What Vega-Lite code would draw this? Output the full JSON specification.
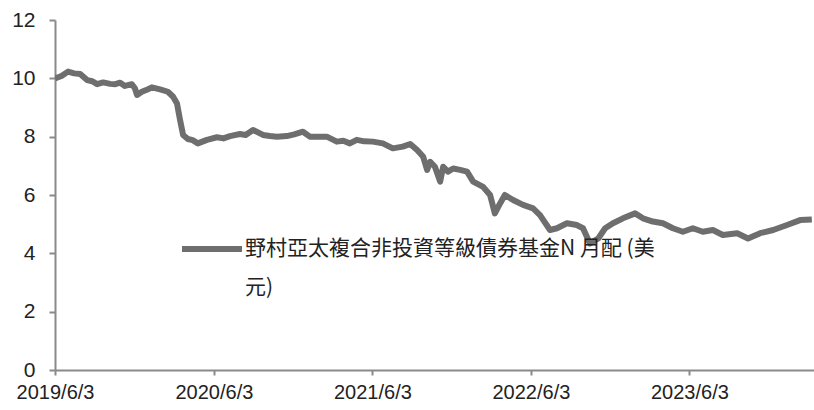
{
  "$schema": "https://vega.github.io/schema/vega-lite/v6.json",
  "width": 759,
  "height": 350,
  "autosize": {"type": "none"},
  "padding": {"left": 55, "top": 20, "right": 0, "bottom": 40},
  "background": "white",
  "config": {"view": {"stroke": null}},
  "data": {
    "values": [
      {"date": "2019-06-03", "nav": 10.0},
      {"date": "2019-06-18", "nav": 10.08},
      {"date": "2019-07-03", "nav": 10.23},
      {"date": "2019-07-17", "nav": 10.17},
      {"date": "2019-07-31", "nav": 10.15},
      {"date": "2019-08-16", "nav": 9.94},
      {"date": "2019-08-28", "nav": 9.9},
      {"date": "2019-09-08", "nav": 9.8},
      {"date": "2019-09-22", "nav": 9.86},
      {"date": "2019-10-08", "nav": 9.81},
      {"date": "2019-10-20", "nav": 9.8},
      {"date": "2019-10-31", "nav": 9.85},
      {"date": "2019-11-11", "nav": 9.74},
      {"date": "2019-11-27", "nav": 9.8},
      {"date": "2019-12-04", "nav": 9.66},
      {"date": "2019-12-09", "nav": 9.43},
      {"date": "2019-12-20", "nav": 9.54},
      {"date": "2020-01-02", "nav": 9.62},
      {"date": "2020-01-12", "nav": 9.69},
      {"date": "2020-01-31", "nav": 9.62},
      {"date": "2020-02-18", "nav": 9.54},
      {"date": "2020-03-01", "nav": 9.37},
      {"date": "2020-03-10", "nav": 9.14},
      {"date": "2020-03-17", "nav": 8.57},
      {"date": "2020-03-24", "nav": 8.06},
      {"date": "2020-04-04", "nav": 7.92},
      {"date": "2020-04-15", "nav": 7.88},
      {"date": "2020-04-27", "nav": 7.77},
      {"date": "2020-05-18", "nav": 7.89},
      {"date": "2020-06-10", "nav": 7.98},
      {"date": "2020-06-25", "nav": 7.94},
      {"date": "2020-07-10", "nav": 8.02},
      {"date": "2020-08-02", "nav": 8.09},
      {"date": "2020-08-15", "nav": 8.06},
      {"date": "2020-09-01", "nav": 8.23},
      {"date": "2020-09-24", "nav": 8.06},
      {"date": "2020-10-10", "nav": 8.02},
      {"date": "2020-10-26", "nav": 8.0},
      {"date": "2020-11-18", "nav": 8.02},
      {"date": "2020-12-05", "nav": 8.08},
      {"date": "2020-12-25", "nav": 8.17},
      {"date": "2021-01-10", "nav": 8.0},
      {"date": "2021-02-18", "nav": 8.0},
      {"date": "2021-03-13", "nav": 7.83},
      {"date": "2021-03-28", "nav": 7.86},
      {"date": "2021-04-12", "nav": 7.77},
      {"date": "2021-04-28", "nav": 7.89},
      {"date": "2021-05-15", "nav": 7.84},
      {"date": "2021-06-04", "nav": 7.83},
      {"date": "2021-06-27", "nav": 7.77},
      {"date": "2021-07-20", "nav": 7.6},
      {"date": "2021-08-12", "nav": 7.66},
      {"date": "2021-08-29", "nav": 7.75},
      {"date": "2021-09-14", "nav": 7.54},
      {"date": "2021-09-28", "nav": 7.31},
      {"date": "2021-10-07", "nav": 6.86},
      {"date": "2021-10-14", "nav": 7.14},
      {"date": "2021-10-25", "nav": 6.97},
      {"date": "2021-11-06", "nav": 6.46},
      {"date": "2021-11-13", "nav": 6.97},
      {"date": "2021-11-24", "nav": 6.8},
      {"date": "2021-12-06", "nav": 6.91},
      {"date": "2021-12-22", "nav": 6.86},
      {"date": "2022-01-07", "nav": 6.8},
      {"date": "2022-01-21", "nav": 6.46},
      {"date": "2022-02-13", "nav": 6.28},
      {"date": "2022-03-01", "nav": 6.0},
      {"date": "2022-03-12", "nav": 5.37},
      {"date": "2022-03-24", "nav": 5.71},
      {"date": "2022-04-04", "nav": 6.0},
      {"date": "2022-04-23", "nav": 5.83},
      {"date": "2022-05-16", "nav": 5.66},
      {"date": "2022-06-08", "nav": 5.54},
      {"date": "2022-06-24", "nav": 5.31},
      {"date": "2022-07-17", "nav": 4.8},
      {"date": "2022-08-02", "nav": 4.86},
      {"date": "2022-08-25", "nav": 5.03},
      {"date": "2022-09-17", "nav": 4.97},
      {"date": "2022-10-01", "nav": 4.86},
      {"date": "2022-10-17", "nav": 4.34},
      {"date": "2022-11-05", "nav": 4.51},
      {"date": "2022-11-21", "nav": 4.86},
      {"date": "2022-12-09", "nav": 5.03},
      {"date": "2023-01-01", "nav": 5.2},
      {"date": "2023-01-29", "nav": 5.37},
      {"date": "2023-02-16", "nav": 5.2},
      {"date": "2023-03-11", "nav": 5.09},
      {"date": "2023-04-03", "nav": 5.03},
      {"date": "2023-04-26", "nav": 4.86},
      {"date": "2023-05-19", "nav": 4.74},
      {"date": "2023-06-11", "nav": 4.86},
      {"date": "2023-07-04", "nav": 4.74},
      {"date": "2023-07-27", "nav": 4.8},
      {"date": "2023-08-19", "nav": 4.63},
      {"date": "2023-09-21", "nav": 4.69},
      {"date": "2023-10-16", "nav": 4.51},
      {"date": "2023-11-13", "nav": 4.69},
      {"date": "2023-12-13", "nav": 4.8},
      {"date": "2024-01-14", "nav": 4.97},
      {"date": "2024-02-13", "nav": 5.14},
      {"date": "2024-03-11", "nav": 5.16}
    ]
  },
  "transform": [{"calculate": "'野村亞太複合非投資等級債券基金N 月配 (美元)'", "as": "series"}],
  "mark": {"type": "line", "strokeWidth": 6, "strokeJoin": "round", "clip": true},
  "encoding": {
    "x": {
      "field": "date",
      "type": "temporal",
      "scale": {
        "type": "utc",
        "domain": [
          {"year": 2019, "month": 6, "date": 3, "utc": true},
          {"year": 2024, "month": 3, "date": 16, "utc": true}
        ]
      },
      "axis": {
        "title": null,
        "values": [
          {"year": 2019, "month": 6, "date": 3, "utc": true},
          {"year": 2020, "month": 6, "date": 3, "utc": true},
          {"year": 2021, "month": 6, "date": 3, "utc": true},
          {"year": 2022, "month": 6, "date": 3, "utc": true},
          {"year": 2023, "month": 6, "date": 3, "utc": true}
        ],
        "format": "%Y/%-m/%-d",
        "grid": false,
        "domainColor": "#8a8a8a",
        "domainWidth": 2,
        "tickColor": "#8a8a8a",
        "tickWidth": 2,
        "tickSize": 5,
        "labelFont": "Liberation Sans",
        "labelFontSize": 20,
        "labelColor": "#222222",
        "labelPadding": 7,
        "labelFlush": false,
        "labelOverlap": false
      }
    },
    "y": {
      "field": "nav",
      "type": "quantitative",
      "scale": {"domain": [0, 12], "nice": false, "zero": true},
      "axis": {
        "title": null,
        "values": [0, 2, 4, 6, 8, 10, 12],
        "grid": false,
        "domainColor": "#8a8a8a",
        "domainWidth": 2,
        "tickColor": "#8a8a8a",
        "tickWidth": 2,
        "tickSize": 6,
        "labelFont": "Liberation Sans",
        "labelFontSize": 21,
        "labelColor": "#222222",
        "labelPadding": 14
      }
    },
    "color": {
      "field": "series",
      "type": "nominal",
      "scale": {"range": ["#6e6e6e"]},
      "legend": {
        "title": null,
        "orient": "none",
        "legendX": 124,
        "legendY": 196,
        "symbolType": "stroke",
        "symbolSize": 3600,
        "symbolStrokeWidth": 6,
        "labelFont": "Noto Sans CJK TC",
        "labelFontSize": 21,
        "labelColor": "#222222",
        "labelLimit": 700,
        "labelOffset": 0,
        "labelBaseline": "middle",
        "labelExpr": "[substring(datum.label, 0, 22), substring(datum.label, 22)]",
        "encode": {"labels": {"update": {"lineHeight": {"value": 39}}}}
      }
    }
  }
}
